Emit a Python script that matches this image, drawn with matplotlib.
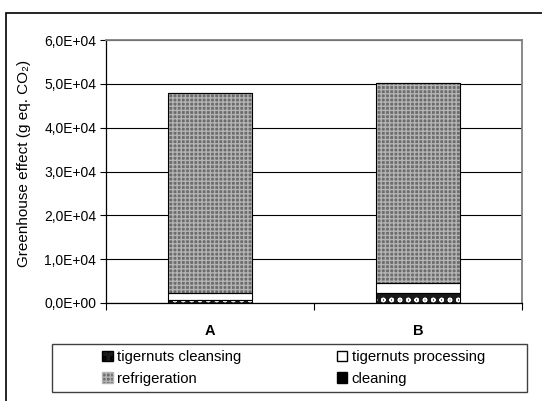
import matplotlib
matplotlib.use("Agg")
import numpy as np
from matplotlib import pyplot as plt
from matplotlib.patches import Patch, Rectangle

plt.rcParams['font.family'] = ['Liberation Sans', 'DejaVu Sans']

scenarios = ['A', 'B']
# stacked from the bottom up
tigernuts_cleansing = [600, 2300]
tigernuts_processing = [1600, 2200]
refrigeration = [45700, 45760]
cleaning = [0, 0]
yticks = [0, 1e4, 2e4, 3e4, 4e4, 5e4, 6e4]
ytick_labels = ['0,0E+00', '1,0E+04', '2,0E+04', '3,0E+04', '4,0E+04', '5,0E+04', '6,0E+04']

fig = plt.figure(figsize=(5.42, 4.01), dpi=100)
ax = fig.add_axes([0.1956, 0.2444, 0.7674, 0.6558])

x = np.arange(len(scenarios)) + 0.5
w = 0.404

series = [
    (tigernuts_cleansing, '#1a1a1a', 'oo', 'white'),
    (tigernuts_processing, 'white', None, 'white'),
    (refrigeration, '#6c6c6c', '++++', '#b4b4b4'),
    (cleaning, 'black', None, 'black'),
]

bottom = np.zeros(len(scenarios))
for vals, fc, hatch, hc in series:
    vals = np.array(vals, dtype=float)
    ax.bar(x, vals, w, bottom=bottom, color=fc, hatch=hatch,
           edgecolor=hc, linewidth=0, zorder=2)
    ax.bar(x, vals, w, bottom=bottom, fill=False, edgecolor='black',
           linewidth=0.8, zorder=3)
    bottom += vals

ax.set_xlim(0, 2)
ax.set_ylim(0, 6e4)
ax.set_yticks(yticks)
ax.set_yticklabels(ytick_labels, fontsize=10)
ax.tick_params(axis='y', direction='out', length=4, width=0.8, pad=3)

ax.set_xticks([0, 1, 2])
ax.set_xticklabels([])
ax.tick_params(axis='x', which='major', direction='out', length=5, width=0.8)
ax.set_xticks(x, minor=True)
ax.set_xticklabels(scenarios, minor=True, fontsize=10.5, fontweight='bold')
ax.tick_params(axis='x', which='minor', length=0, pad=15)

ax.yaxis.grid(True, color='black', linewidth=0.8)
ax.set_axisbelow(True)
for s in ['top', 'right']:
    ax.spines[s].set_color('#808080')
    ax.spines[s].set_linewidth(1.3)
for s in ['left', 'bottom']:
    ax.spines[s].set_linewidth(0.9)

ax.set_ylabel('Greenhouse effect (g eq. CO₂)', fontsize=11)
ax.yaxis.set_label_coords(-0.18, 0.53)

# legend frame and entries
fig.patches.append(Rectangle((52 / 542, 9 / 401), 475 / 542, 48 / 401,
                             transform=fig.transFigure, fill=False,
                             edgecolor='#404040', linewidth=1))
handles = [
    Patch(facecolor='#1a1a1a', edgecolor='black', hatch='oo'),
    Patch(facecolor='#6c6c6c', edgecolor='#b4b4b4', hatch='++++'),
    Patch(facecolor='white', edgecolor='black'),
    Patch(facecolor='black', edgecolor='black'),
]
labels = ['tigernuts cleansing', 'refrigeration', 'tigernuts processing', 'cleaning']
fig.legend(handles, labels, ncol=2, loc='center left',
           bbox_to_anchor=(95 / 542, 33 / 401), frameon=False,
           fontsize=10.7, handlelength=0.7, handleheight=0.7,
           handletextpad=0.3, columnspacing=6.4, labelspacing=0.5,
           borderpad=0)

# outer frame of the figure
fig.patches.append(Rectangle((6 / 542, -0.1), 1.2, (401 - 13) / 401 + 0.1,
                             transform=fig.transFigure, fill=False,
                             edgecolor='black', linewidth=1.2))

fig.savefig('out.png', dpi=100)
